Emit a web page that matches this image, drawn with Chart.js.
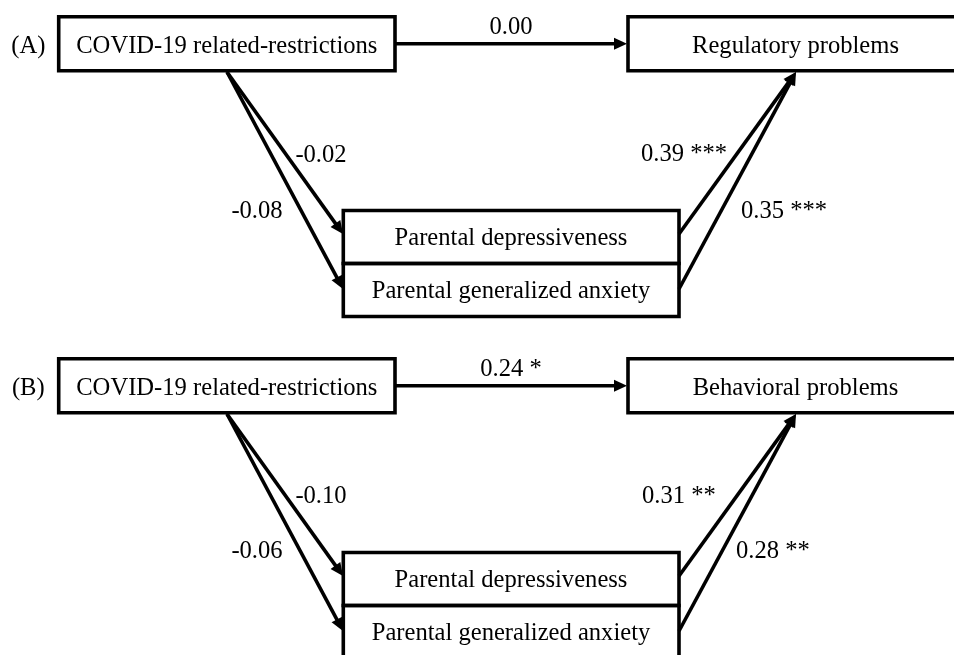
<!DOCTYPE html>
<html>
<head>
<meta charset="utf-8">
<script src="https://cdn.jsdelivr.net/npm/chart.js@4"></script>
<style>
html,body{margin:0;padding:0;background:#fff;}
#wrap{width:954px;height:655px;}
</style>
</head>
<body>
<div id="wrap"><canvas id="c" width="954" height="655"></canvas></div>
<script>
// ---------- data ----------
const PANEL_LABELS = ['(A)', '(B)'];
const PREDICTOR = 'COVID-19 related-restrictions';
const OUTCOMES = ['Regulatory problems', 'Behavioral problems'];
const MEDIATORS = ['Parental depressiveness', 'Parental generalized anxiety'];
const DIRECT_COEF = [0.00, 0.24];
const DIRECT_SIG = ['', '*'];
const A_COEF = [[-0.02, -0.08], [-0.10, -0.06]];
const A_SIG = [['', ''], ['', '']];
const B_COEF = [[0.39, 0.35], [0.31, 0.28]];
const B_SIG = [['***', '***'], ['**', '**']];

// ---------- layout (diagram coordinates) ----------
const PANEL_DY = [0, 342];
const BOX_PRED = {x1: 58.7, x2: 395, y1: 16.7, y2: 70.7};
const BOX_OUT = {x1: 628, x2: 975, y1: 16.7, y2: 70.7};
const BOX_MED = {x1: 343.3, x2: 679, y1: 210.5, ym: 263.5, y2: 316.5};
const ARROWS = {
  direct: [[395, 43.7], [627, 43.7]],
  a: [[[227, 72], [343, 234]], [[227, 72], [343, 289]]],
  b: [[[679, 234], [796, 72]], [[679, 289], [796, 72]]]
};
const LABEL_POS = [
  {direct: {x: 511, y: 34, al: 'center'},
   a: [{x: 321, y: 162, al: 'center'}, {x: 257, y: 218, al: 'center'}],
   b: [{x: 641, y: 161, al: 'left'}, {x: 741, y: 218, al: 'left'}]},
  {direct: {x: 511, y: 376, al: 'center'},
   a: [{x: 321, y: 503, al: 'center'}, {x: 257, y: 558, al: 'center'}],
   b: [{x: 642, y: 503, al: 'left'}, {x: 736, y: 558, al: 'left'}]}
];
const TEXT_POS = {panel: {x: 28.3, y: 53}, pred: {x: 226.8, y: 53}, out: {x: 795.5, y: 53},
  med: [{x: 511, y: 245}, {x: 511, y: 298}]};
const FONT = '24.6px "Liberation Serif", "Times New Roman", serif';
const LINE_W = 3.6;
const HEAD_LEN = 13, HEAD_HALF = 6;

function fmt(v, s) { return v.toFixed(2) + (s ? ' ' + s : ''); }

// ---------- build datasets ----------
const datasets = [];
const heads = [];
const texts = [];
function boxDS(b, dy) {
  return {data: [{x: b.x1, y: b.y1 + dy}, {x: b.x2, y: b.y1 + dy}, {x: b.x2, y: b.y2 + dy},
    {x: b.x1, y: b.y2 + dy}, {x: b.x1, y: b.y1 + dy}],
    showLine: true, borderColor: '#000', borderWidth: LINE_W, pointRadius: 0, tension: 0,
    borderJoinStyle: 'miter', borderCapStyle: 'square', fill: false};
}
function arrowDS(p, q, dy) {
  const dx = q[0] - p[0], ddy = q[1] - p[1];
  const L = Math.hypot(dx, ddy);
  const ux = dx / L, uy = ddy / L;
  const end = [q[0] - ux * (HEAD_LEN - 3), q[1] - uy * (HEAD_LEN - 3)];
  heads.push({tip: [q[0], q[1] + dy], ux, uy});
  return {data: [{x: p[0], y: p[1] + dy}, {x: end[0], y: end[1] + dy}],
    showLine: true, borderColor: '#000', borderWidth: LINE_W, pointRadius: 0, fill: false,
    borderCapStyle: 'butt'};
}
for (let k = 0; k < 2; k++) {
  const dy = PANEL_DY[k];
  datasets.push(boxDS(BOX_PRED, dy));
  datasets.push(boxDS(BOX_OUT, dy));
  datasets.push(boxDS({x1: BOX_MED.x1, x2: BOX_MED.x2, y1: BOX_MED.y1, y2: BOX_MED.ym}, dy));
  datasets.push(boxDS({x1: BOX_MED.x1, x2: BOX_MED.x2, y1: BOX_MED.ym, y2: BOX_MED.y2}, dy));
  datasets.push(arrowDS(ARROWS.direct[0], ARROWS.direct[1], dy));
  for (let i = 0; i < 2; i++) datasets.push(arrowDS(ARROWS.a[i][0], ARROWS.a[i][1], dy));
  for (let i = 0; i < 2; i++) datasets.push(arrowDS(ARROWS.b[i][0], ARROWS.b[i][1], dy));

  texts.push({t: PANEL_LABELS[k], x: TEXT_POS.panel.x, y: TEXT_POS.panel.y + dy, al: 'center'});
  texts.push({t: PREDICTOR, x: TEXT_POS.pred.x, y: TEXT_POS.pred.y + dy, al: 'center'});
  texts.push({t: OUTCOMES[k], x: TEXT_POS.out.x, y: TEXT_POS.out.y + dy, al: 'center'});
  for (let i = 0; i < 2; i++) texts.push({t: MEDIATORS[i], x: TEXT_POS.med[i].x, y: TEXT_POS.med[i].y + dy, al: 'center'});
  const lp = LABEL_POS[k];
  texts.push({t: fmt(DIRECT_COEF[k], DIRECT_SIG[k]), x: lp.direct.x, y: lp.direct.y, al: lp.direct.al});
  for (let i = 0; i < 2; i++) {
    texts.push({t: fmt(A_COEF[k][i], A_SIG[k][i]), x: lp.a[i].x, y: lp.a[i].y, al: lp.a[i].al});
    texts.push({t: fmt(B_COEF[k][i], B_SIG[k][i]), x: lp.b[i].x, y: lp.b[i].y, al: lp.b[i].al});
  }
}

const diagramPlugin = {
  id: 'diagram',
  afterDatasetsDraw(chart) {
    const ctx = chart.ctx, xs = chart.scales.x, ys = chart.scales.y;
    ctx.save();
    ctx.fillStyle = '#000';
    heads.forEach(h => {
      const tx = h.tip[0], ty = h.tip[1];
      const bx = tx - h.ux * HEAD_LEN, by = ty - h.uy * HEAD_LEN;
      const px = -h.uy, py = h.ux;
      ctx.beginPath();
      ctx.moveTo(xs.getPixelForValue(tx), ys.getPixelForValue(ty));
      ctx.lineTo(xs.getPixelForValue(bx + px * HEAD_HALF), ys.getPixelForValue(by + py * HEAD_HALF));
      ctx.lineTo(xs.getPixelForValue(bx - px * HEAD_HALF), ys.getPixelForValue(by - py * HEAD_HALF));
      ctx.closePath();
      ctx.fill();
    });
    ctx.font = FONT;
    ctx.textBaseline = 'alphabetic';
    texts.forEach(t => {
      ctx.textAlign = t.al;
      ctx.fillText(t.t, xs.getPixelForValue(t.x), ys.getPixelForValue(t.y));
    });
    ctx.restore();
  }
};

new Chart(document.getElementById('c'), {
  type: 'scatter',
  data: {datasets},
  options: {
    responsive: false,
    animation: false,
    layout: {padding: 0},
    plugins: {legend: {display: false}, tooltip: {enabled: false}},
    scales: {
      x: {type: 'linear', min: 0, max: 954, display: false},
      y: {type: 'linear', min: 0, max: 655, reverse: true, display: false}
    }
  },
  plugins: [diagramPlugin]
});
</script>
</body>
</html>
